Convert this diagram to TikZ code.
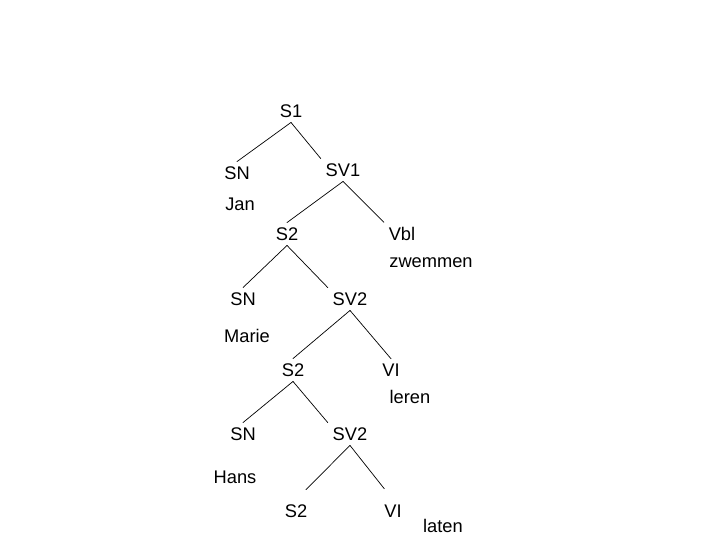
\documentclass[tikz,border=0pt]{standalone}
\usepackage{fontspec}
\setmainfont{Liberation Sans}
\begin{document}
\begin{tikzpicture}[x=0.025cm, y=-0.025cm, line cap=round, line join=round,
  cat/.style={font=\fontsize{13}{15}\selectfont},
  word/.style={font=\fontsize{13}{15}\selectfont},
  branch/.style={line width=0.5pt}]
  % Window bounds (reference pixels)
  \useasboundingbox (0,0) rectangle (720,540);

  % Level 1: S1 -> SN SV1
  \node[cat] (s1) at (291,111) {S1};
  \node[cat] (sn1) at (237,173) {SN};
  \node[cat] (sv1) at (343,170) {SV1};
  \node[word] (jan) at (240,204) {Jan};
  \draw[branch] (s1.south) -- (sn1.north);
  \draw[branch] (s1.south) -- (sv1.north west);

  % Level 2: SV1 -> S2 Vbl
  \node[cat] (s2a) at (287,234) {S2};
  \node[cat] (vbl) at (402,234) {Vbl};
  \node[word] (zwemmen) at (431,263) {zwemmen};
  \draw[branch] (sv1.south) -- (s2a.north);
  \draw[branch] (sv1.south) -- (vbl.north west);

  % Level 3: S2 -> SN SV2
  \node[cat] (sn2) at (243,299) {SN};
  \node[cat] (sv2a) at (350,299) {SV2};
  \node[word] (marie) at (247,336) {Marie};
  \draw[branch] (s2a.south) -- (sn2.north);
  \draw[branch] (s2a.south) -- (sv2a.north west);

  % Level 4: SV2 -> S2 VI
  \node[cat] (s2b) at (293,370) {S2};
  \node[cat] (vi1) at (391,370) {VI};
  \node[word] (leren) at (410,397) {leren};
  \draw[branch] (sv2a.south) -- (s2b.north);
  \draw[branch] (sv2a.south) -- (vi1.north);

  % Level 5: S2 -> SN SV2
  \node[cat] (sn3) at (243,434) {SN};
  \node[cat] (sv2b) at (350,434) {SV2};
  \node[word] (hans) at (235,477) {Hans};
  \draw[branch] (s2b.south) -- (sn3.north);
  \draw[branch] (s2b.south) -- (sv2b.north west);

  % Level 6: SV2 -> S2 VI
  \node[cat] (s2c) at (296,511) {S2};
  \node[cat] (vi2) at (393,511) {VI};
  \node[word] (laten) at (443,526) {laten};
  \draw[branch, shorten >=10pt] (sv2b.south) -- (s2c.north);
  \draw[branch, shorten >=10pt] (sv2b.south) -- (vi2.north);
\end{tikzpicture}
\end{document}
